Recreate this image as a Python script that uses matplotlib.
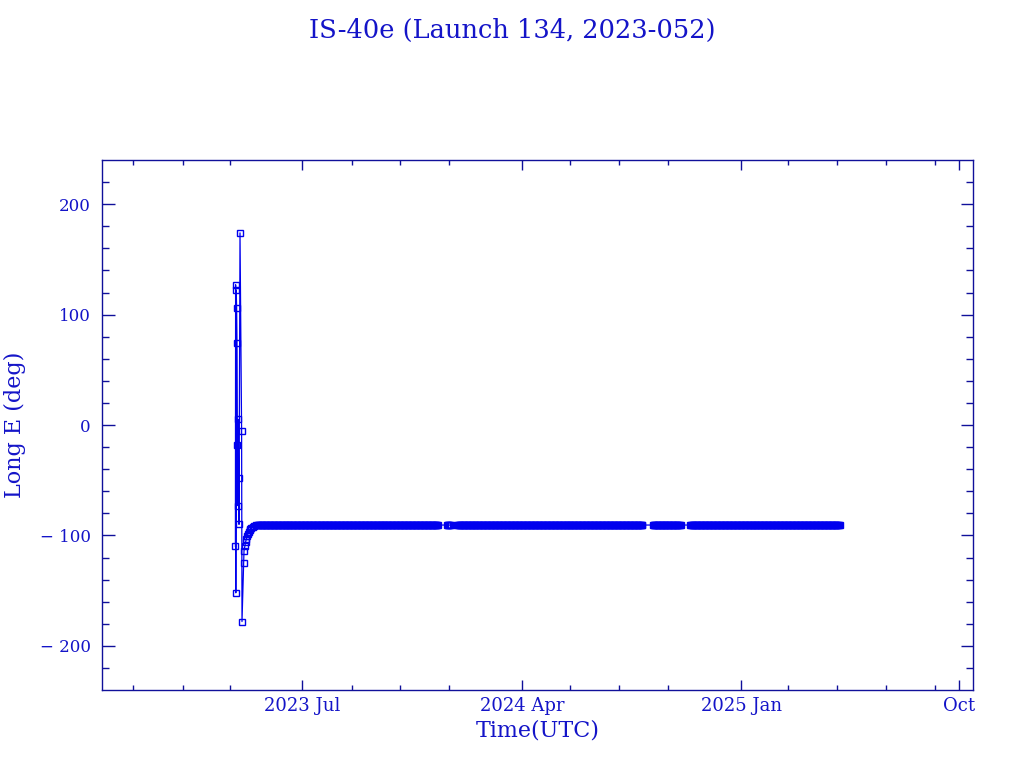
import matplotlib
matplotlib.use("Agg")
import matplotlib.pyplot as plt
import pandas as pd
import numpy as np

# ---- data ----
# early transfer / drift phase: (time UTC, longitude E in deg)
drift_times = [
    "2023-04-08 06:00", "2023-04-08 12:00", "2023-04-08 18:00", "2023-04-09 06:00",
    "2023-04-09 18:00", "2023-04-10 06:00", "2023-04-10 18:00", "2023-04-11 06:00",
    "2023-04-11 18:00", "2023-04-12 06:00", "2023-04-12 18:00", "2023-04-14 00:00",
    "2023-04-16 00:00", "2023-04-16 12:00", "2023-04-18 12:00", "2023-04-19 00:00",
    "2023-04-20 00:00", "2023-04-21 00:00", "2023-04-22 00:00", "2023-04-23 00:00",
    "2023-04-24 00:00", "2023-04-25 00:00", "2023-04-26 00:00", "2023-04-27 00:00",
    "2023-04-28 00:00", "2023-04-30 00:00", "2023-05-02 00:00", "2023-05-04 00:00",
]
drift_lon = [
    -110, 127, -152, 122,
    106, 74, -18, -73,
    5, -48, -90, 174,
    -5, -178, -125, -114,
    -110, -106, -103, -100.5,
    -98.5, -96.5, -95, -94,
    -93, -92, -91.3, -90.9,
]

# on-station periods (daily tracking), start, end, longitude
station_start = ["2023-05-06", "2023-12-29", "2024-01-11", "2024-09-12", "2024-10-29"]
station_end   = ["2023-12-18", "2024-01-03", "2024-08-30", "2024-10-17", "2025-05-04"]
station_lon   = [-90.6, -90.6, -90.6, -90.6, -90.6]

# axis ticks
major_ticks = ["2023-07-01", "2024-04-01", "2025-01-01", "2025-10-01"]
major_labels = ["2023 Jul", "2024 Apr", "2025 Jan", "Oct"]
minor_ticks = ["2022-12-01", "2023-02-01", "2023-04-01", "2023-09-01", "2023-11-01",
               "2024-01-01", "2024-06-01", "2024-08-01", "2024-10-01", "2025-03-01",
               "2025-05-01", "2025-07-01", "2025-09-01"]
x_range = ["2022-10-23 03:00", "2025-10-18 05:00"]

title = "IS-40e (Launch 134, 2023-052)"

# ---- build series ----
times = list(pd.to_datetime(drift_times, format="%Y-%m-%d %H:%M"))
lons = list(drift_lon)
for s, e, v in zip(station_start, station_end, station_lon):
    d = pd.date_range(s, e, freq="D")
    times.extend(list(d))
    lons.extend([v] * len(d))
times = pd.DatetimeIndex(times)

# ---- plot ----
txt_c = "#1414C8"
ax_c = "#10109A"
dat_c = "#0000EE"

plt.rcParams["font.family"] = ["DejaVu Serif"]
fig = plt.figure(figsize=(10.24, 7.68), dpi=100)
ax = fig.add_axes([102 / 1024, 1 - 690 / 768, 871 / 1024, 530 / 768])

ax.plot(times, lons, "-", color=dat_c, lw=0.9, marker="s", ms=4.5,
        mfc="none", mec=dat_c, mew=1.0)

ax.set_xlim(pd.Timestamp(x_range[0]), pd.Timestamp(x_range[1]))
ax.set_ylim(-240, 240)

ax.set_xticks(pd.to_datetime(major_ticks))
ax.set_xticklabels(major_labels)
ax.set_xticks(pd.to_datetime(minor_ticks), minor=True)
ax.set_yticks([-200, -100, 0, 100, 200])
ax.set_yticklabels(["\u2212 200", "\u2212 100", "0", "100", "200"])
ax.set_yticks(np.arange(-220, 240, 20), minor=True)

ax.tick_params(axis="both", which="both", direction="in", top=True, right=True,
               colors=ax_c, labelcolor=txt_c, width=1.0)
ax.tick_params(axis="x", which="major", length=7, pad=5, labelsize=13)
ax.tick_params(axis="x", which="minor", length=3.5)
ax.tick_params(axis="y", which="major", length=9, pad=8, labelsize=12)
ax.tick_params(axis="y", which="minor", length=4.7)
for sp in ax.spines.values():
    sp.set_color(ax_c)
    sp.set_linewidth(1.0)

ax.set_xlabel("Time(UTC)", color=txt_c, fontsize=16, labelpad=3)
ax.set_ylabel("Long E (deg)", color=txt_c, fontsize=16, labelpad=10)
fig.text(0.5, 1 - 30 / 768, title, ha="center", va="center", color=txt_c, fontsize=18.5)

fig.savefig("out.png", dpi=100)
